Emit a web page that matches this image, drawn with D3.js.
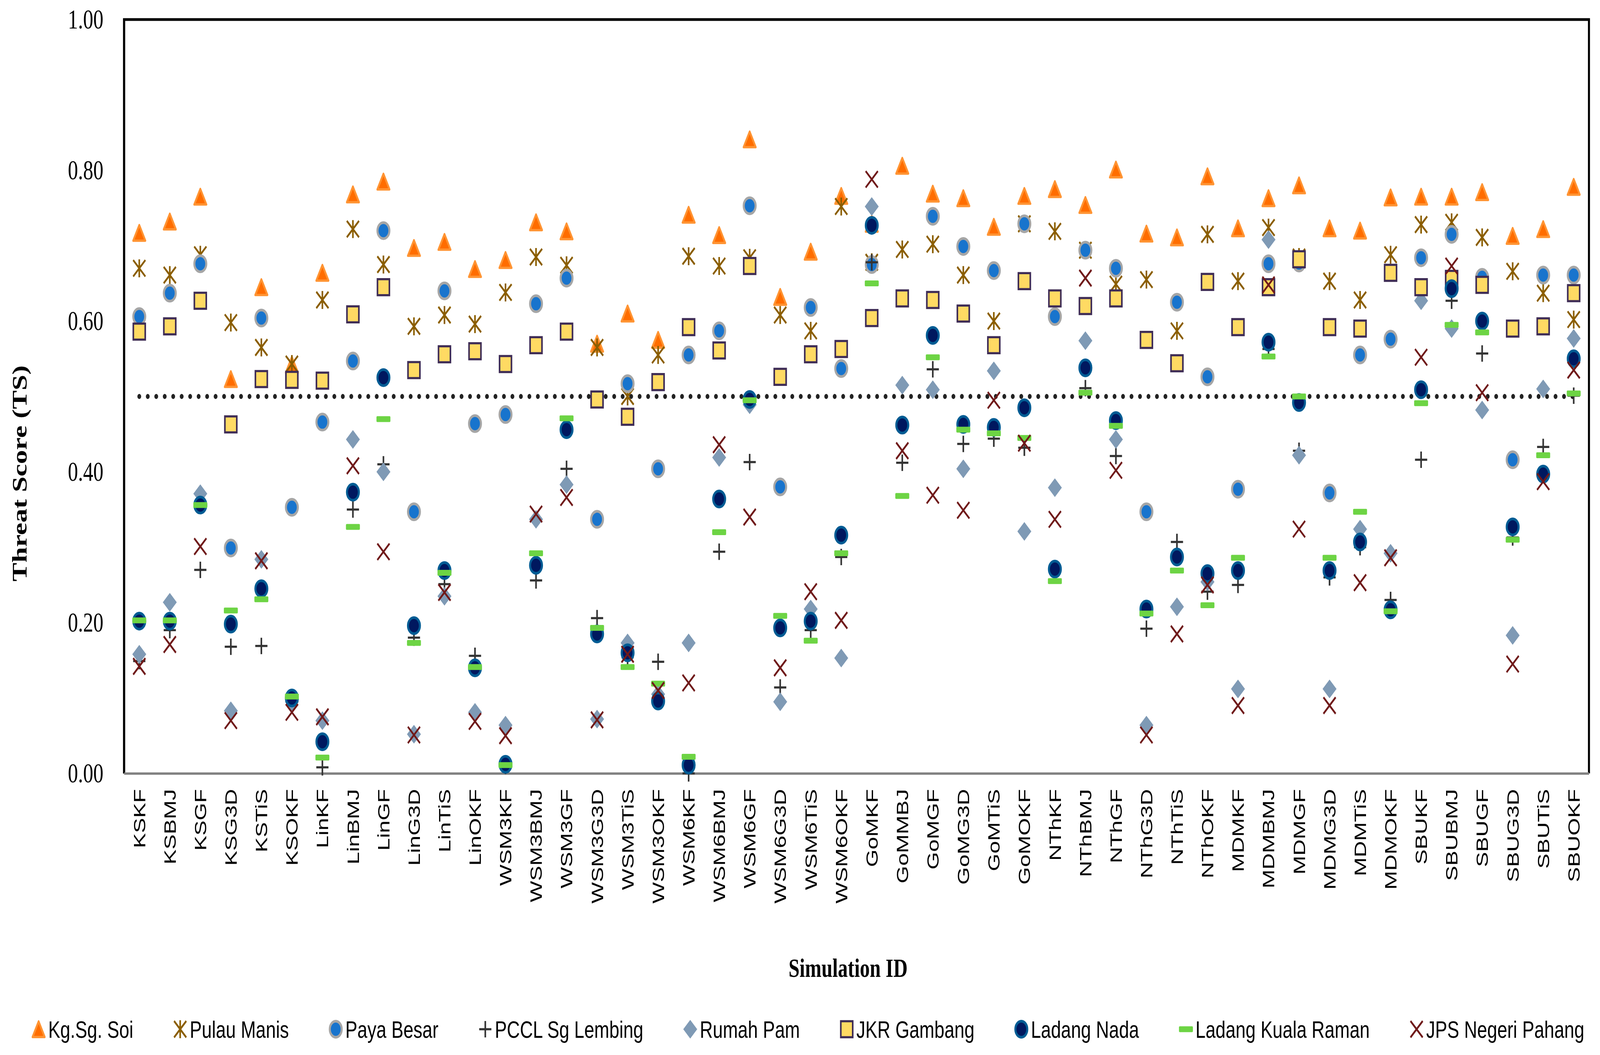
<!DOCTYPE html>
<html>
<head>
<meta charset="utf-8">
<script src="https://cdn.jsdelivr.net/npm/d3@7/dist/d3.min.js"></script>
<style>
  html, body { margin: 0; padding: 0; width: 100%; height: 100%; overflow: hidden; background: #ffffff; }
  #chart { width: 100%; height: 100%; }
  #chart svg { display: block; width: 100%; height: 100%; }
</style>
</head>
<body>
<div id="chart"></div>
<script>
/// Simulation IDs along the x axis.
var simIds = ["KSKF", "KSBMJ", "KSGF", "KSG3D", "KSTiS", "KSOKF",
  "LinKF", "LinBMJ", "LinGF", "LinG3D", "LinTiS", "LinOKF",
  "WSM3KF", "WSM3BMJ", "WSM3GF", "WSM3G3D", "WSM3TiS", "WSM3OKF",
  "WSM6KF", "WSM6BMJ", "WSM6GF", "WSM6G3D", "WSM6TiS", "WSM6OKF",
  "GoMKF", "GoMMBJ", "GoMGF", "GoMG3D", "GoMTiS", "GoMOKF",
  "NThKF", "NThBMJ", "NThGF", "NThG3D", "NThTiS", "NThOKF",
  "MDMKF", "MDMBMJ", "MDMGF", "MDMG3D", "MDMTiS", "MDMOKF",
  "SBUKF", "SBUBMJ", "SBUGF", "SBUG3D", "SBUTiS", "SBUOKF"];

/// Threat score per station (one value per simulation ID).
var kgSgSoi = [0.717, 0.732, 0.765, 0.523, 0.645, 0.542, 0.664, 0.768, 0.785, 0.697, 0.705, 0.669,
  0.681, 0.731, 0.719, 0.570, 0.610, 0.575, 0.741, 0.714, 0.841, 0.632, 0.692, 0.766,
  0.729, 0.806, 0.769, 0.763, 0.725, 0.766, 0.775, 0.754, 0.801, 0.716, 0.711, 0.792,
  0.723, 0.763, 0.780, 0.723, 0.720, 0.764, 0.765, 0.765, 0.771, 0.713, 0.722, 0.778];
var pulauManis = [0.670, 0.661, 0.688, 0.598, 0.565, 0.543, 0.628, 0.722, 0.675, 0.593, 0.608, 0.596,
  0.638, 0.685, 0.674, 0.565, 0.500, 0.555, 0.686, 0.673, 0.684, 0.608, 0.587, 0.752,
  0.678, 0.695, 0.702, 0.661, 0.600, 0.729, 0.719, 0.694, 0.649, 0.655, 0.587, 0.715,
  0.653, 0.724, 0.685, 0.653, 0.628, 0.688, 0.728, 0.731, 0.711, 0.666, 0.637, 0.602];
var payaBesar = [0.606, 0.637, 0.676, 0.299, 0.604, 0.353, 0.466, 0.547, 0.720, 0.347, 0.640, 0.464,
  0.476, 0.623, 0.657, 0.337, 0.517, 0.404, 0.555, 0.587, 0.753, 0.380, 0.618, 0.537,
  0.675, 0.462, 0.739, 0.699, 0.667, 0.729, 0.606, 0.694, 0.670, 0.347, 0.625, 0.526,
  0.377, 0.676, 0.677, 0.372, 0.555, 0.576, 0.684, 0.715, 0.658, 0.416, 0.661, 0.661];
var pcclSgLembing = [0.149, 0.190, 0.270, 0.168, 0.169, 0.098, 0.008, 0.350, 0.410, 0.180, 0.251, 0.156,
  0.010, 0.256, 0.404, 0.206, 0.154, 0.148, 0.000, 0.294, 0.413, 0.114, 0.190, 0.287,
  0.678, 0.412, 0.536, 0.437, 0.444, 0.432, 0.270, 0.511, 0.421, 0.192, 0.307, 0.241,
  0.250, 0.563, 0.428, 0.260, 0.300, 0.230, 0.416, 0.627, 0.557, 0.313, 0.433, 0.501];
var rumahPam = [0.158, 0.227, 0.371, 0.083, 0.284, 0.095, 0.070, 0.443, 0.400, 0.052, 0.235, 0.081,
  0.064, 0.337, 0.383, 0.072, 0.173, 0.105, 0.173, 0.419, 0.489, 0.095, 0.218, 0.153,
  0.752, 0.515, 0.509, 0.404, 0.534, 0.321, 0.379, 0.574, 0.443, 0.064, 0.221, 0.254,
  0.112, 0.708, 0.422, 0.112, 0.324, 0.292, 0.627, 0.590, 0.482, 0.183, 0.510, 0.577];
var jkrGambang = [0.586, 0.593, 0.627, 0.463, 0.523, 0.522, 0.521, 0.609, 0.645, 0.535, 0.556, 0.560,
  0.543, 0.568, 0.586, 0.496, 0.473, 0.519, 0.592, 0.561, 0.673, 0.526, 0.556, 0.563,
  0.604, 0.630, 0.628, 0.610, 0.568, 0.653, 0.630, 0.620, 0.630, 0.575, 0.544, 0.652,
  0.592, 0.645, 0.682, 0.592, 0.590, 0.664, 0.645, 0.656, 0.648, 0.590, 0.593, 0.637];
var ladangNada = [0.202, 0.202, 0.356, 0.198, 0.245, 0.100, 0.042, 0.373, 0.525, 0.196, 0.269, 0.140,
  0.012, 0.276, 0.456, 0.185, 0.160, 0.096, 0.011, 0.364, 0.496, 0.193, 0.202, 0.316,
  0.727, 0.462, 0.581, 0.463, 0.459, 0.485, 0.271, 0.538, 0.468, 0.218, 0.287, 0.265,
  0.269, 0.572, 0.492, 0.269, 0.307, 0.217, 0.509, 0.643, 0.600, 0.327, 0.397, 0.550];
var ladangKualaRaman = [0.203, 0.203, 0.356, 0.216, 0.231, 0.102, 0.021, 0.327, 0.470, 0.173, 0.266, 0.141,
  0.011, 0.292, 0.471, 0.193, 0.141, 0.119, 0.022, 0.320, 0.495, 0.209, 0.176, 0.292,
  0.650, 0.368, 0.552, 0.456, 0.451, 0.445, 0.255, 0.505, 0.461, 0.212, 0.269, 0.223,
  0.286, 0.553, 0.500, 0.286, 0.347, 0.215, 0.491, 0.595, 0.585, 0.310, 0.422, 0.504];
var jpsNegeriPahang = [0.142, 0.171, 0.301, 0.070, 0.282, 0.081, 0.075, 0.408, 0.294, 0.051, 0.240, 0.069,
  0.050, 0.344, 0.366, 0.071, 0.158, 0.110, 0.120, 0.436, 0.340, 0.140, 0.241, 0.203,
  0.788, 0.428, 0.369, 0.349, 0.495, 0.438, 0.337, 0.657, 0.402, 0.051, 0.185, 0.250,
  0.090, 0.648, 0.324, 0.090, 0.253, 0.286, 0.552, 0.673, 0.505, 0.145, 0.387, 0.535];

var seriesNames = ["Kg.Sg. Soi", "Pulau Manis", "Paya Besar", "PCCL Sg Lembing", "Rumah Pam",
  "JKR Gambang", "Ladang Nada", "Ladang Kuala Raman", "JPS Negeri Pahang"];
var seriesValues = [kgSgSoi, pulauManis, payaBesar, pcclSgLembing, rumahPam,
  jkrGambang, ladangNada, ladangKualaRaman, jpsNegeriPahang];
var yTicks = [0, 0.2, 0.4, 0.6, 0.8, 1.0];
var threshold = 0.5;

/// Marker look for each station, in the same order as seriesNames.
var markerStyles = [
  { shape: "triangle", fill: "#ff6d00", stroke: "#ff9433", sw: 6 },
  { shape: "asterisk", fill: "none", stroke: "#8b5e00", sw: 5.5 },
  { shape: "circle", fill: "#1874cd", stroke: "#a6a6a6", sw: 7 },
  { shape: "plus", fill: "none", stroke: "#333333", sw: 5.5 },
  { shape: "diamond", fill: "#7f9ab5", stroke: "none", sw: 0 },
  { shape: "square", fill: "#ffda63", stroke: "#3f2d56", sw: 5.5 },
  { shape: "circle", fill: "#00185f", stroke: "#005c94", sw: 7 },
  { shape: "dash", fill: "#6dd444", stroke: "none", sw: 0 },
  { shape: "cross", fill: "none", stroke: "#701a1a", sw: 5.5 }
];

var W = 5509, H = 2701;
var plot = { left: 427, right: 5471, top: 50, bottom: 1980 };

/// Drawn in a 5509x2701 box that is stretched to fill the whole window.
var svg = d3.select("#chart").append("svg")
  .attr("viewBox", "0 0 " + W + " " + H)
  .attr("preserveAspectRatio", "none")
  .style("background", "#ffffff");

var xScale = d3.scaleBand().domain(simIds).range([plot.left, plot.right]);
var yScale = d3.scaleLinear().domain([0, 1]).range([plot.bottom, plot.top]);

function markerPath(shape) {
  switch (shape) {
    case "triangle": return "M0,-20L21,20L-21,20Z";
    case "asterisk": return "M-21,-21L21,21M21,-21L-21,21M0,-23L0,23";
    case "plus": return "M-21,0H21M0,-21V21";
    case "diamond": return "M0,-24L24,0L0,24L-24,0Z";
    case "square": return "M-20.5,-20.5H20.5V20.5H-20.5Z";
    case "cross": return "M-21,-21L21,21M21,-21L-21,21";
  }
  return null;
}

function drawMarker(g, st) {
  if (st.shape === "circle") {
    g.append("circle").attr("r", 20.5)
      .attr("fill", st.fill).attr("stroke", st.stroke).attr("stroke-width", st.sw);
  } else if (st.shape === "dash") {
    g.append("rect").attr("x", -24).attr("y", -7.5).attr("width", 48).attr("height", 15)
      .attr("rx", 3).attr("fill", st.fill);
  } else {
    g.append("path").attr("d", markerPath(st.shape))
      .attr("fill", st.fill).attr("stroke", st.stroke).attr("stroke-width", st.sw)
      .attr("stroke-linejoin", st.shape === "triangle" ? "round" : "miter");
  }
}

/// Plot frame: black on top, left and right, gray category axis below.
svg.append("path")
  .attr("d", "M" + plot.left + "," + plot.bottom + "V" + plot.top + "H" + plot.right + "V" + plot.bottom)
  .attr("fill", "none").attr("stroke", "#000").attr("stroke-width", 7);

var yAxis = d3.axisLeft(yScale).tickValues(yTicks).tickFormat(d3.format(".2f"))
  .tickSize(0).tickPadding(71);
var yG = svg.append("g").attr("transform", "translate(" + plot.left + ",0)").call(yAxis);
yG.select(".domain").attr("stroke", "#000").attr("stroke-width", 7);
yG.selectAll("text")
  .attr("font-family", "'Liberation Serif', 'Times New Roman', serif")
  .attr("font-size", 70).attr("fill", "#000");

var xAxis = d3.axisBottom(xScale).tickSize(0);
var xG = svg.append("g").attr("transform", "translate(0," + plot.bottom + ")").call(xAxis);
xG.select(".domain").attr("stroke", "#808080").attr("stroke-width", 6);
xG.selectAll("text")
  .attr("transform", "rotate(-90)")
  .attr("x", -40).attr("y", 0).attr("dy", "0.35em")
  .attr("text-anchor", "end")
  .attr("font-family", "'Liberation Sans', Arial, sans-serif")
  .attr("font-size", 58).attr("fill", "#000");

/// Threshold line at 0.50, round dots.
svg.append("line")
  .attr("x1", xScale(simIds[0]) + xScale.bandwidth() / 2)
  .attr("x2", xScale(simIds[simIds.length - 1]) + xScale.bandwidth() / 2)
  .attr("y1", yScale(threshold)).attr("y2", yScale(threshold))
  .attr("stroke", "#222").attr("stroke-width", 13)
  .attr("stroke-linecap", "round").attr("stroke-dasharray", "0 29.2");

/// Points for each station.
seriesValues.forEach(function (vals, si) {
  var st = markerStyles[si];
  var pts = svg.append("g").attr("class", "series s" + si)
    .selectAll("g").data(vals).enter().append("g")
    .attr("transform", function (d, i) {
      return "translate(" + (xScale(simIds[i]) + xScale.bandwidth() / 2) + "," + yScale(d) + ")";
    });
  pts.each(function () { drawMarker(d3.select(this), st); });
});

/// Axis titles.
svg.append("text")
  .attr("transform", "translate(66,1212) rotate(-90)")
  .attr("text-anchor", "middle").attr("dy", "0.35em")
  .attr("font-family", "'Liberation Serif', 'Times New Roman', serif")
  .attr("font-weight", "bold").attr("font-size", 72)
  .text("Threat Score (TS)");

svg.append("text")
  .attr("x", 2920).attr("y", 2477).attr("dy", "0.35em")
  .attr("text-anchor", "middle")
  .attr("font-family", "'Liberation Serif', 'Times New Roman', serif")
  .attr("font-weight", "bold").attr("font-size", 68)
  .text("Simulation ID");

/// Legend along the bottom, spread between the two ends.
var legend = svg.append("g").attr("class", "legend");
var legY = 2635, legStart = 108, legEnd = 5455, markW = 50, markGap = 8;
var items = seriesNames.map(function (name, si) {
  var g = legend.append("g");
  var mg = g.append("g");
  drawMarker(mg, markerStyles[si]);
  var t = g.append("text")
    .attr("dy", "0.35em")
    .attr("font-family", "'Liberation Sans', Arial, sans-serif")
    .attr("font-size", 62).attr("fill", "#000")
    .text(name);
  return { g: g, mg: mg, t: t, w: t.node().getComputedTextLength() };
});
var used = d3.sum(items, function (it) { return markW + markGap + it.w; });
var gap = (legEnd - legStart - used) / (items.length - 1);
var cx = legStart;
items.forEach(function (it) {
  it.mg.attr("transform", "translate(" + (cx + markW / 2) + "," + legY + ")");
  it.t.attr("x", cx + markW + markGap).attr("y", legY);
  cx += markW + markGap + it.w + gap;
});
</script>
</body>
</html>
